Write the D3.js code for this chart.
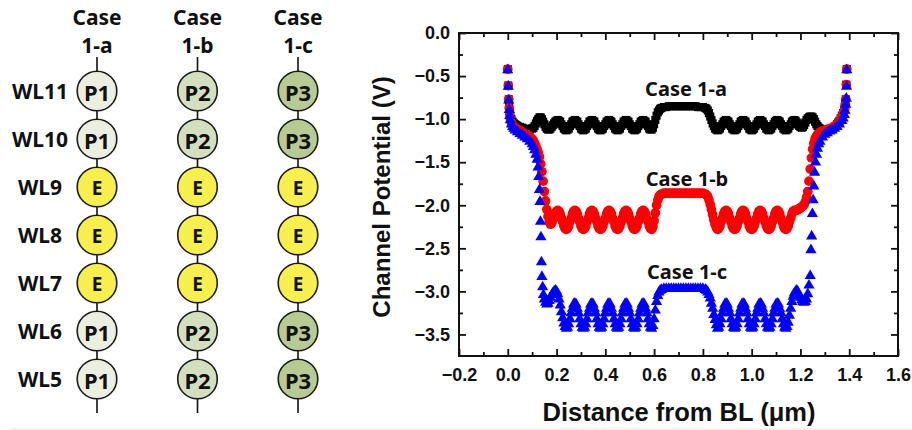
<!DOCTYPE html>
<html>
<head>
<meta charset="utf-8">
<script src="https://cdn.jsdelivr.net/npm/d3@7"></script>
<style>
  body { margin: 0; background: #fff; }
  svg { display: block; }
  .axis text { font-family: "Liberation Sans", Arial, sans-serif; font-weight: bold; font-size: 18px; fill: #111; }
  .axis line, .axis path { stroke: #111; }
  .lbl { font-family: "Noto Sans", sans-serif; font-weight: bold; fill: #111; }
</style>
</head>
<body>
<div id="chart"></div>
<script>
// ---- left schematic ----
const wordLines = ["WL11", "WL10", "WL9", "WL8", "WL7", "WL6", "WL5"];
const caseNames = ["1-a", "1-b", "1-c"];
const string1a = ["P1", "P1", "E", "E", "E", "P1", "P1"];
const string1b = ["P2", "P2", "E", "E", "E", "P2", "P2"];
const string1c = ["P3", "P3", "E", "E", "E", "P3", "P3"];

// ---- right chart ----
const xTicks = [-0.2, 0.0, 0.2, 0.4, 0.6, 0.8, 1.0, 1.2, 1.4, 1.6];
const yTicks = [0.0, -0.5, -1.0, -1.5, -2.0, -2.5, -3.0, -3.5];
const curveLabels = ["Case 1-a", "Case 1-b", "Case 1-c"];

// [distance (um), channel potential (V)]
const case1a = [
  [0.000,-0.42],[0.002,-0.61],[0.004,-0.77],[0.006,-0.86],[0.008,-0.92],[0.010,-0.96],[0.015,-1.00],[0.020,-1.03],
  [0.025,-1.05],[0.030,-1.06],[0.035,-1.07],[0.040,-1.08],[0.050,-1.09],[0.060,-1.10],[0.070,-1.11],[0.080,-1.12],
  [0.090,-1.12],[0.100,-1.11],[0.105,-1.10],[0.110,-1.08],[0.115,-1.05],[0.120,-1.02],[0.125,-1.00],[0.130,-0.98],
  [0.135,-0.98],[0.140,-1.00],[0.145,-1.03],[0.150,-1.06],[0.155,-1.09],[0.160,-1.11],[0.165,-1.12],[0.170,-1.12],
  [0.175,-1.11],[0.180,-1.09],[0.185,-1.07],[0.190,-1.05],[0.195,-1.03],[0.200,-1.02],
  [0.205,-1.01],[0.210,-1.02],[0.215,-1.03],[0.220,-1.06],[0.225,-1.08],[0.230,-1.11],[0.235,-1.12],
  [0.240,-1.13],[0.245,-1.12],[0.250,-1.11],[0.255,-1.08],[0.260,-1.06],[0.265,-1.03],[0.270,-1.02],
  [0.275,-1.01],[0.280,-1.02],[0.285,-1.03],[0.290,-1.06],[0.295,-1.08],[0.300,-1.11],[0.305,-1.12],
  [0.310,-1.13],[0.315,-1.12],[0.320,-1.11],[0.325,-1.08],[0.330,-1.06],[0.335,-1.03],[0.340,-1.02],
  [0.345,-1.01],[0.350,-1.02],[0.355,-1.03],[0.360,-1.06],[0.365,-1.08],[0.370,-1.11],[0.375,-1.12],
  [0.380,-1.13],[0.385,-1.12],[0.390,-1.11],[0.395,-1.08],[0.400,-1.06],[0.405,-1.03],[0.410,-1.02],
  [0.415,-1.01],[0.420,-1.02],[0.425,-1.03],[0.430,-1.06],[0.435,-1.08],[0.440,-1.11],[0.445,-1.12],
  [0.450,-1.13],[0.455,-1.12],[0.460,-1.11],[0.465,-1.08],[0.470,-1.06],[0.475,-1.03],[0.480,-1.02],
  [0.485,-1.01],[0.490,-1.02],[0.495,-1.03],[0.500,-1.06],[0.505,-1.08],[0.510,-1.11],[0.515,-1.12],
  [0.520,-1.13],[0.525,-1.12],[0.530,-1.11],[0.535,-1.08],[0.540,-1.06],[0.545,-1.03],[0.550,-1.02],
  [0.555,-1.01],[0.560,-1.02],[0.565,-1.03],[0.570,-1.06],[0.575,-1.08],[0.580,-1.11],[0.585,-1.12],
  [0.590,-1.12],[0.595,-1.10],[0.600,-1.06],[0.605,-1.01],[0.610,-0.96],[0.615,-0.92],[0.620,-0.90],
  [0.625,-0.88],[0.630,-0.87],[0.64,-0.86],[0.65,-0.86],[0.66,-0.85],[0.67,-0.85],[0.68,-0.85],[0.69,-0.85],
  [0.70,-0.85],[0.71,-0.85],[0.72,-0.85],[0.73,-0.85],[0.74,-0.85],[0.75,-0.85],[0.76,-0.85],[0.77,-0.85],
  [0.78,-0.86],[0.79,-0.86],[0.80,-0.86],[0.81,-0.87],[0.815,-0.88],[0.820,-0.90],[0.825,-0.93],[0.830,-0.97],
  [0.835,-1.01],[0.840,-1.05],[0.845,-1.08],[0.850,-1.11],[0.855,-1.12],[0.860,-1.13],[0.865,-1.12],[0.870,-1.11],
  [0.875,-1.08],[0.880,-1.06],[0.885,-1.03],[0.890,-1.02],
  [0.895,-1.01],[0.900,-1.02],[0.905,-1.03],[0.910,-1.06],[0.915,-1.08],[0.920,-1.11],[0.925,-1.12],
  [0.930,-1.13],[0.935,-1.12],[0.940,-1.11],[0.945,-1.08],[0.950,-1.06],[0.955,-1.03],[0.960,-1.02],
  [0.965,-1.01],[0.970,-1.02],[0.975,-1.03],[0.980,-1.06],[0.985,-1.08],[0.990,-1.11],[0.995,-1.12],
  [1.000,-1.13],[1.005,-1.12],[1.010,-1.11],[1.015,-1.08],[1.020,-1.06],[1.025,-1.03],[1.030,-1.02],
  [1.035,-1.01],[1.040,-1.02],[1.045,-1.03],[1.050,-1.06],[1.055,-1.08],[1.060,-1.11],[1.065,-1.12],
  [1.070,-1.13],[1.075,-1.12],[1.080,-1.11],[1.085,-1.08],[1.090,-1.06],[1.095,-1.03],[1.100,-1.02],
  [1.105,-1.01],[1.110,-1.02],[1.115,-1.03],[1.120,-1.06],[1.125,-1.08],[1.130,-1.11],[1.135,-1.12],
  [1.140,-1.13],[1.145,-1.12],[1.150,-1.11],[1.155,-1.08],[1.160,-1.06],[1.165,-1.03],[1.170,-1.02],
  [1.175,-1.01],[1.180,-1.02],[1.185,-1.04],[1.190,-1.06],[1.195,-1.08],[1.200,-1.09],[1.205,-1.10],[1.210,-1.09],
  [1.215,-1.07],[1.220,-1.04],[1.225,-1.01],[1.230,-0.99],[1.235,-0.98],[1.240,-0.97],[1.245,-0.97],[1.250,-0.98],
  [1.255,-1.00],[1.260,-1.03],[1.265,-1.06],[1.270,-1.08],[1.275,-1.10],[1.280,-1.11],[1.29,-1.12],[1.30,-1.13],
  [1.31,-1.13],[1.32,-1.12],[1.33,-1.11],[1.34,-1.09],[1.35,-1.06],[1.355,-1.04],[1.36,-1.02],[1.365,-0.99],
  [1.37,-0.96],[1.375,-0.93],[1.38,-0.89],[1.382,-0.86],[1.384,-0.82],[1.386,-0.77],[1.388,-0.60],[1.390,-0.42]
];

const case1b = [
  [0.000,-0.42],[0.002,-0.61],[0.004,-0.77],[0.006,-0.87],[0.008,-0.94],[0.010,-0.99],[0.015,-1.04],[0.020,-1.07],
  [0.025,-1.09],[0.030,-1.10],[0.040,-1.12],[0.050,-1.13],[0.060,-1.15],[0.070,-1.17],[0.080,-1.18],[0.090,-1.20],
  [0.100,-1.23],[0.105,-1.25],[0.110,-1.28],[0.115,-1.31],[0.120,-1.35],[0.125,-1.39],[0.130,-1.44],[0.135,-1.52],
  [0.140,-1.61],[0.145,-1.72],[0.150,-1.84],[0.155,-1.95],[0.160,-2.05],[0.165,-2.13],[0.170,-2.19],[0.175,-2.22],
  [0.180,-2.21],[0.185,-2.17],[0.190,-2.12],[0.195,-2.09],[0.200,-2.07],
  [0.205,-2.06],[0.210,-2.07],[0.215,-2.10],[0.220,-2.15],[0.225,-2.19],[0.230,-2.24],[0.235,-2.27],
  [0.240,-2.28],[0.245,-2.27],[0.250,-2.24],[0.255,-2.19],[0.260,-2.15],[0.265,-2.10],[0.270,-2.07],
  [0.275,-2.06],[0.280,-2.07],[0.285,-2.10],[0.290,-2.15],[0.295,-2.19],[0.300,-2.24],[0.305,-2.27],
  [0.310,-2.28],[0.315,-2.27],[0.320,-2.24],[0.325,-2.19],[0.330,-2.15],[0.335,-2.10],[0.340,-2.07],
  [0.345,-2.06],[0.350,-2.07],[0.355,-2.10],[0.360,-2.15],[0.365,-2.19],[0.370,-2.24],[0.375,-2.27],
  [0.380,-2.28],[0.385,-2.27],[0.390,-2.24],[0.395,-2.19],[0.400,-2.15],[0.405,-2.10],[0.410,-2.07],
  [0.415,-2.06],[0.420,-2.07],[0.425,-2.10],[0.430,-2.15],[0.435,-2.19],[0.440,-2.24],[0.445,-2.27],
  [0.450,-2.28],[0.455,-2.27],[0.460,-2.24],[0.465,-2.19],[0.470,-2.15],[0.475,-2.10],[0.480,-2.07],
  [0.485,-2.06],[0.490,-2.07],[0.495,-2.10],[0.500,-2.15],[0.505,-2.19],[0.510,-2.24],[0.515,-2.27],
  [0.520,-2.28],[0.525,-2.27],[0.530,-2.24],[0.535,-2.19],[0.540,-2.15],[0.545,-2.10],[0.550,-2.07],
  [0.555,-2.06],[0.560,-2.07],[0.565,-2.10],[0.570,-2.15],[0.575,-2.19],[0.580,-2.24],[0.585,-2.27],
  [0.590,-2.28],[0.595,-2.25],[0.600,-2.18],[0.605,-2.09],[0.610,-2.00],[0.615,-1.94],[0.620,-1.90],
  [0.625,-1.88],[0.630,-1.87],[0.64,-1.86],[0.65,-1.86],[0.66,-1.86],[0.67,-1.86],[0.68,-1.86],[0.69,-1.86],
  [0.70,-1.86],[0.71,-1.86],[0.72,-1.86],[0.73,-1.86],[0.74,-1.86],[0.75,-1.86],[0.76,-1.86],[0.77,-1.86],
  [0.78,-1.86],[0.79,-1.86],[0.80,-1.86],[0.81,-1.87],[0.815,-1.88],[0.820,-1.90],[0.825,-1.94],[0.830,-1.99],
  [0.835,-2.05],[0.840,-2.11],[0.845,-2.17],[0.850,-2.22],[0.855,-2.26],[0.860,-2.28],[0.865,-2.27],[0.870,-2.24],
  [0.875,-2.19],[0.880,-2.15],[0.885,-2.10],[0.890,-2.07],
  [0.895,-2.06],[0.900,-2.07],[0.905,-2.10],[0.910,-2.15],[0.915,-2.19],[0.920,-2.24],[0.925,-2.27],
  [0.930,-2.28],[0.935,-2.27],[0.940,-2.24],[0.945,-2.19],[0.950,-2.15],[0.955,-2.10],[0.960,-2.07],
  [0.965,-2.06],[0.970,-2.07],[0.975,-2.10],[0.980,-2.15],[0.985,-2.19],[0.990,-2.24],[0.995,-2.27],
  [1.000,-2.28],[1.005,-2.27],[1.010,-2.24],[1.015,-2.19],[1.020,-2.15],[1.025,-2.10],[1.030,-2.07],
  [1.035,-2.06],[1.040,-2.07],[1.045,-2.10],[1.050,-2.15],[1.055,-2.19],[1.060,-2.24],[1.065,-2.27],
  [1.070,-2.28],[1.075,-2.27],[1.080,-2.24],[1.085,-2.19],[1.090,-2.15],[1.095,-2.10],[1.100,-2.07],
  [1.105,-2.06],[1.110,-2.07],[1.115,-2.10],[1.120,-2.15],[1.125,-2.19],[1.130,-2.24],[1.135,-2.27],
  [1.140,-2.28],[1.145,-2.27],[1.150,-2.24],[1.155,-2.19],[1.160,-2.15],[1.165,-2.10],[1.170,-2.07],
  [1.175,-2.06],[1.180,-2.06],[1.185,-2.06],[1.190,-2.05],[1.195,-2.04],[1.200,-2.03],[1.205,-2.02],[1.210,-2.01],
  [1.215,-1.99],[1.220,-1.96],[1.225,-1.91],[1.230,-1.84],[1.235,-1.72],[1.240,-1.58],[1.245,-1.45],[1.250,-1.35],
  [1.255,-1.28],[1.260,-1.23],[1.265,-1.20],[1.270,-1.18],[1.28,-1.15],[1.29,-1.14],[1.30,-1.13],[1.31,-1.12],
  [1.32,-1.11],[1.33,-1.10],[1.34,-1.08],[1.35,-1.06],[1.355,-1.05],[1.36,-1.03],[1.365,-1.00],[1.37,-0.97],
  [1.375,-0.94],[1.38,-0.90],[1.382,-0.87],[1.384,-0.83],[1.386,-0.77],[1.388,-0.60],[1.390,-0.42]
];

const case1c = [
  [0.000,-0.43],[0.002,-0.62],[0.004,-0.78],[0.006,-0.89],[0.008,-0.96],[0.010,-1.01],[0.015,-1.06],[0.020,-1.09],
  [0.025,-1.11],[0.030,-1.13],[0.040,-1.15],[0.050,-1.17],[0.060,-1.19],[0.070,-1.21],[0.080,-1.23],[0.090,-1.26],
  [0.100,-1.29],[0.105,-1.32],[0.110,-1.36],[0.115,-1.41],[0.120,-1.47],[0.124,-1.56],[0.127,-1.67],[0.130,-1.82],
  [0.132,-1.96],[0.134,-2.19],[0.136,-2.37],[0.138,-2.66],[0.140,-2.83],[0.143,-2.95],[0.146,-3.04],[0.150,-3.09],
  [0.155,-3.13],[0.160,-3.15],[0.165,-3.14],[0.170,-3.11],[0.175,-3.07],[0.180,-3.04],[0.185,-3.02],[0.190,-3.00],
  [0.195,-2.99],[0.200,-3.00],[0.205,-3.03],[0.210,-3.09],[0.215,-3.16],[0.220,-3.24],[0.225,-3.31],[0.230,-3.37],
  [0.235,-3.41],[0.240,-3.43],[0.245,-3.42],[0.250,-3.38],[0.255,-3.32],[0.260,-3.25],[0.265,-3.20],[0.270,-3.15],
  [0.275,-3.14],[0.280,-3.15],[0.285,-3.20],[0.290,-3.25],[0.295,-3.32],[0.300,-3.38],[0.305,-3.42],
  [0.310,-3.43],[0.315,-3.42],[0.320,-3.38],[0.325,-3.32],[0.330,-3.25],[0.335,-3.20],[0.340,-3.15],
  [0.345,-3.14],[0.350,-3.15],[0.355,-3.20],[0.360,-3.25],[0.365,-3.32],[0.370,-3.38],[0.375,-3.42],
  [0.380,-3.43],[0.385,-3.42],[0.390,-3.38],[0.395,-3.32],[0.400,-3.25],[0.405,-3.20],[0.410,-3.15],
  [0.415,-3.14],[0.420,-3.15],[0.425,-3.20],[0.430,-3.25],[0.435,-3.32],[0.440,-3.38],[0.445,-3.42],
  [0.450,-3.43],[0.455,-3.42],[0.460,-3.38],[0.465,-3.32],[0.470,-3.25],[0.475,-3.20],[0.480,-3.15],
  [0.485,-3.14],[0.490,-3.15],[0.495,-3.20],[0.500,-3.25],[0.505,-3.32],[0.510,-3.38],[0.515,-3.42],
  [0.520,-3.43],[0.525,-3.42],[0.530,-3.38],[0.535,-3.32],[0.540,-3.25],[0.545,-3.20],[0.550,-3.15],
  [0.555,-3.14],[0.560,-3.15],[0.565,-3.20],[0.570,-3.25],[0.575,-3.32],[0.580,-3.38],[0.585,-3.42],
  [0.590,-3.43],[0.595,-3.40],[0.600,-3.32],[0.605,-3.22],[0.610,-3.12],[0.615,-3.05],[0.620,-3.01],
  [0.625,-2.99],[0.630,-2.98],[0.64,-2.97],[0.65,-2.97],[0.66,-2.97],[0.67,-2.97],[0.68,-2.97],[0.69,-2.97],
  [0.70,-2.97],[0.71,-2.97],[0.72,-2.97],[0.73,-2.97],[0.74,-2.97],[0.75,-2.97],[0.76,-2.97],[0.77,-2.97],
  [0.78,-2.97],[0.79,-2.97],[0.80,-2.97],[0.81,-2.98],[0.815,-2.99],[0.820,-3.01],[0.825,-3.04],[0.830,-3.08],
  [0.835,-3.14],[0.840,-3.20],[0.845,-3.27],[0.850,-3.33],[0.855,-3.39],[0.860,-3.43],[0.865,-3.42],[0.870,-3.38],
  [0.875,-3.32],[0.880,-3.25],[0.885,-3.20],[0.890,-3.15],
  [0.895,-3.14],[0.900,-3.15],[0.905,-3.20],[0.910,-3.25],[0.915,-3.32],[0.920,-3.38],[0.925,-3.42],
  [0.930,-3.43],[0.935,-3.42],[0.940,-3.38],[0.945,-3.32],[0.950,-3.25],[0.955,-3.20],[0.960,-3.15],
  [0.965,-3.14],[0.970,-3.15],[0.975,-3.20],[0.980,-3.25],[0.985,-3.32],[0.990,-3.38],[0.995,-3.42],
  [1.000,-3.43],[1.005,-3.42],[1.010,-3.38],[1.015,-3.32],[1.020,-3.25],[1.025,-3.20],[1.030,-3.15],
  [1.035,-3.14],[1.040,-3.15],[1.045,-3.20],[1.050,-3.25],[1.055,-3.32],[1.060,-3.38],[1.065,-3.42],
  [1.070,-3.43],[1.075,-3.42],[1.080,-3.38],[1.085,-3.32],[1.090,-3.25],[1.095,-3.20],[1.100,-3.15],
  [1.105,-3.14],[1.110,-3.15],[1.115,-3.20],[1.120,-3.25],[1.125,-3.32],[1.130,-3.38],[1.135,-3.42],
  [1.140,-3.43],[1.145,-3.41],[1.150,-3.36],[1.155,-3.28],[1.160,-3.20],[1.165,-3.12],[1.170,-3.06],
  [1.175,-3.02],[1.180,-3.00],[1.185,-2.99],[1.190,-3.01],[1.195,-3.04],[1.200,-3.07],[1.205,-3.10],[1.210,-3.12],
  [1.215,-3.13],[1.220,-3.12],[1.225,-3.09],[1.230,-3.03],[1.235,-2.93],[1.240,-2.82],[1.243,-2.52],[1.246,-2.36],
  [1.249,-2.10],[1.252,-1.94],[1.255,-1.78],[1.258,-1.62],[1.262,-1.50],[1.266,-1.41],[1.270,-1.34],[1.275,-1.29],
  [1.28,-1.26],[1.29,-1.21],[1.30,-1.18],[1.31,-1.16],[1.32,-1.14],[1.33,-1.13],[1.34,-1.11],[1.35,-1.09],
  [1.36,-1.06],[1.37,-1.02],[1.375,-0.99],[1.38,-0.95],[1.383,-0.90],[1.386,-0.83],[1.388,-0.76],[1.389,-0.62],
  [1.390,-0.43]
];

const W = 912, H = 430;
const svg = d3.select("#chart").append("svg")
    .attr("width", W)
    .attr("height", H)
    .style("background", "#fff");

// faint page rule at the very bottom
svg.append("line")
    .attr("x1", 10).attr("x2", W).attr("y1", 429).attr("y2", 429)
    .attr("stroke", "#e6e6e6").attr("stroke-width", 1);

// ========== schematic ==========
const cellFill = { P1: "#eceee0", P2: "#d4dfbf", P3: "#b6ca92", E: "#f7ef4c" };
const colX = d3.scalePoint().domain(caseNames).range([97, 298]);
const rowY = d3.scalePoint().domain(wordLines).range([91, 379]);
const strings = [string1a, string1b, string1c];
const cellR = 19.8;

const sch = svg.append("g");

caseNames.forEach((c, i) => {
    const cx = colX(c);
    const g = sch.append("g");
    g.append("text").attr("class", "lbl")
        .attr("x", cx).attr("y", 17)
        .attr("text-anchor", "middle").attr("dominant-baseline", "central")
        .style("font-size", "21px")
        .text("Case");
    g.append("text").attr("class", "lbl")
        .attr("x", cx).attr("y", 45)
        .attr("text-anchor", "middle").attr("dominant-baseline", "central")
        .style("font-size", "21px")
        .text(c);
    // string line
    g.append("line")
        .attr("x1", cx).attr("x2", cx)
        .attr("y1", 57).attr("y2", 413)
        .attr("stroke", "#111").attr("stroke-width", 1.6);
    g.selectAll("circle")
        .data(strings[i])
        .join("circle")
        .attr("cx", cx)
        .attr("cy", (d, k) => rowY(wordLines[k]))
        .attr("r", cellR)
        .attr("fill", d => cellFill[d])
        .attr("stroke", "#1a1a1a")
        .attr("stroke-width", 1.6);
    g.selectAll("text.cell")
        .data(strings[i])
        .join("text")
        .attr("class", "lbl cell")
        .attr("x", cx)
        .attr("y", (d, k) => rowY(wordLines[k]) + 1)
        .attr("text-anchor", "middle").attr("dominant-baseline", "central")
        .style("font-size", d => d === "E" ? "19px" : "22px")
        .text(d => d);
});

sch.selectAll("text.wl")
    .data(wordLines)
    .join("text")
    .attr("class", "lbl wl")
    .attr("x", 40)
    .attr("y", d => rowY(d))
    .attr("text-anchor", "middle").attr("dominant-baseline", "central")
    .style("font-size", "21px")
    .text(d => d);

// ========== potential chart ==========
const margin = { top: 33, right: 14, bottom: 74, left: 459 };
const x = d3.scaleLinear().domain([-0.2, 1.6]).range([margin.left, W - margin.right]);
const y = d3.scaleLinear().domain([-3.75, 0]).range([H - margin.bottom, margin.top]);

const xMinor = d3.range(-0.1, 1.6, 0.2);
const yMinor = d3.range(-0.25, -3.75, -0.5);

const axes = svg.append("g").attr("class", "axis");
const y0 = y(-3.75), y1 = y(0), x0 = x(-0.2), x1 = x(1.6);

// bottom
axes.append("g").attr("transform", `translate(0,${y0})`)
    .call(d3.axisBottom(x).tickValues(xTicks).tickSize(-7).tickSizeOuter(0).tickPadding(12).tickFormat(d3.format(".1f")));
axes.append("g").attr("transform", `translate(0,${y0})`)
    .call(d3.axisBottom(x).tickValues(xMinor).tickSize(-4).tickSizeOuter(0).tickFormat(""));
// top
axes.append("g").attr("transform", `translate(0,${y1})`)
    .call(d3.axisTop(x).tickValues(xTicks).tickSize(-7).tickSizeOuter(0).tickFormat(""));
axes.append("g").attr("transform", `translate(0,${y1})`)
    .call(d3.axisTop(x).tickValues(xMinor).tickSize(-4).tickSizeOuter(0).tickFormat(""));
// left
axes.append("g").attr("transform", `translate(${x0},0)`)
    .call(d3.axisLeft(y).tickValues(yTicks).tickSize(-7).tickSizeOuter(0).tickPadding(9).tickFormat(d3.format(".1f")));
axes.append("g").attr("transform", `translate(${x0},0)`)
    .call(d3.axisLeft(y).tickValues(yMinor).tickSize(-4).tickSizeOuter(0).tickFormat(""));
// right
axes.append("g").attr("transform", `translate(${x1},0)`)
    .call(d3.axisRight(y).tickValues(yTicks).tickSize(-7).tickSizeOuter(0).tickFormat(""));
axes.append("g").attr("transform", `translate(${x1},0)`)
    .call(d3.axisRight(y).tickValues(yMinor).tickSize(-4).tickSizeOuter(0).tickFormat(""));

axes.selectAll("line").attr("stroke-width", 1.8);
axes.selectAll("path.domain").remove();
axes.selectAll("text").each(function () {
    const t = d3.select(this);
    if (t.text() === "-0.0") t.text("0.0");
});

svg.append("rect")
    .attr("x", x0).attr("y", y1)
    .attr("width", x1 - x0).attr("height", y0 - y1)
    .attr("fill", "none").attr("stroke", "#111").attr("stroke-width", 2);

// markers
const series = [
    { data: case1a, color: "#000000", shape: d3.symbolSquare, size: 66 },
    { data: case1b, color: "#ff0000", shape: d3.symbolCircle, size: 74 },
    { data: case1c, color: "#0000ff", shape: d3.symbolTriangle, size: 54 }
];
series.forEach(s => {
    svg.append("g").selectAll("path")
        .data(s.data)
        .join("path")
        .attr("transform", d => `translate(${x(d[0])},${y(d[1])})`)
        .attr("d", d3.symbol(s.shape, s.size))
        .attr("fill", s.color);
});

// curve labels
const labelPos = [[686, 88], [687, 178], [687, 271]];
svg.selectAll("text.curve")
    .data(curveLabels)
    .join("text")
    .attr("class", "lbl curve")
    .attr("x", (d, i) => labelPos[i][0])
    .attr("y", (d, i) => labelPos[i][1])
    .attr("text-anchor", "middle").attr("dominant-baseline", "central")
    .style("font-size", "20px")
    .text(d => d);

// axis titles
svg.append("text")
    .attr("transform", `translate(381,197) rotate(-90)`)
    .attr("text-anchor", "middle").attr("dominant-baseline", "central")
    .style("font-family", "'Liberation Sans', Arial, sans-serif")
    .style("font-weight", "bold").style("font-size", "24px").style("fill", "#111")
    .text("Channel Potential (V)");

svg.append("text")
    .attr("x", 679).attr("y", 421)
    .attr("text-anchor", "middle")
    .style("font-family", "'Liberation Sans', Arial, sans-serif")
    .style("font-weight", "bold").style("font-size", "25.5px").style("fill", "#111")
    .text("Distance from BL (\u03bcm)");
</script>
</body>
</html>
